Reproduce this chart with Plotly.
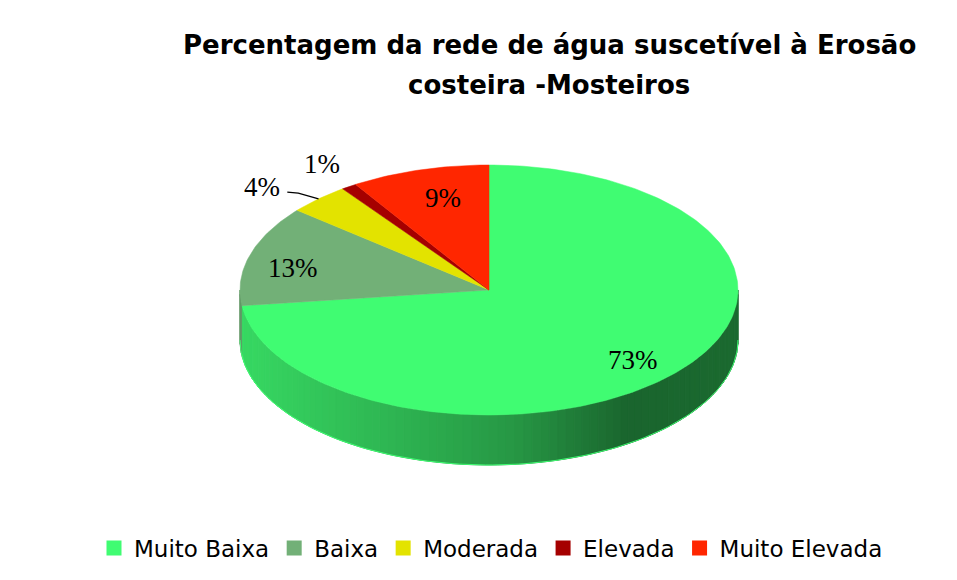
import numpy as np
import plotly.graph_objects as go

categories = ["Muito Baixa", "Baixa", "Moderada", "Elevada", "Muito Elevada"]
values = [73, 13, 4, 1, 9]
colors = ["#40FC72", "#72B077", "#E3E300", "#A50000", "#FF2600"]
# label placement factors (horizontal, vertical) relative to the ellipse radii
label_fx = [0.77, 0.82, 1.33, 1.19, 0.66]
label_fy = [0.85, 0.63, 1.13, 1.22, 0.77]

title_line1 = "Percentagem da rede de água suscetível à Erosão"
title_line2 = "costeira -Mosteiros"

W, H = 957, 580
OFF = 8  # page body margin
CX, CY, RX, RY, DEPTH = 489, 290, 249, 125, 50

total = float(sum(values))
fracs = [v / total for v in values]
starts = []
acc = 0.0
for f in fracs:
    starts.append(90 - acc * 360)
    acc += f
ends = [s - f * 360 for s, f in zip(starts, fracs)]


def pt(a, dy=0.0, fx=1.0, fy=1.0):
    t = np.radians(a)
    return CX + RX * fx * np.cos(t), CY - RY * fy * np.sin(t) + dy


def hex2rgb(h):
    h = h.lstrip("#")
    return np.array([int(h[i:i + 2], 16) for i in (0, 2, 4)], float)


def rgb2hex(c):
    c = np.clip(np.round(c), 0, 255).astype(int)
    return "#%02x%02x%02x" % tuple(c)


ramp_t = [0.0, 0.3, 0.55, 0.78, 1.0]
ramp_k = [0.86, 0.72, 0.6, 0.4, 0.42]

fig = go.Figure()

step = 2.0
a = 180.0
while a < 360.0 - 1e-9:
    a2 = min(a + step, 360.0)
    am = (a + a2) / 2
    idx = 0
    for i, (s, e) in enumerate(zip(starts, ends)):
        rel = (s - am) % 360
        if rel <= (s - e) + 1e-9:
            idx = i
            break
    xm, _ = pt(am)
    t = (xm - (CX - RX)) / (2 * RX)
    k = np.interp(t, ramp_t, ramp_k)
    col = rgb2hex(hex2rgb(colors[idx]) * k)
    xs, ys = [], []
    for ang in np.linspace(a, a2, 4):
        x, y = pt(ang)
        xs.append(x); ys.append(y)
    for ang in np.linspace(a2, a, 4):
        x, y = pt(ang, DEPTH)
        xs.append(x); ys.append(y)
    xs.append(xs[0]); ys.append(ys[0])
    fig.add_trace(go.Scatter(x=xs, y=ys, fill="toself", fillcolor=col, mode="lines",
                             line=dict(color=col, width=1), hoverinfo="skip", showlegend=False))
    a = a2

bx, by = [], []
for ang in np.linspace(180, 360, 120):
    x, y = pt(ang, DEPTH)
    bx.append(x); by.append(y)
fig.add_trace(go.Scatter(x=bx, y=by, mode="lines", line=dict(color="#40FC72", width=1),
                         hoverinfo="skip", showlegend=False))

for i, (s, e) in enumerate(zip(starts, ends)):
    n = max(4, int(abs(s - e) / 1.0))
    xs, ys = [CX], [CY]
    for ang in np.linspace(s, e, n):
        x, y = pt(ang)
        xs.append(x); ys.append(y)
    xs.append(CX); ys.append(CY)
    fig.add_trace(go.Scatter(x=xs, y=ys, fill="toself", fillcolor=colors[i], mode="lines",
                             line=dict(color=colors[i], width=0.5), hoverinfo="skip",
                             showlegend=False))

for i, c in enumerate(categories):
    fig.add_trace(go.Scatter(x=[None], y=[None], mode="markers", name=c,
                             marker=dict(symbol="square", size=15, color=colors[i])))

annotations = []
for i, v in enumerate(values):
    mid = (starts[i] + ends[i]) / 2
    lx, ly = pt(mid, fx=label_fx[i], fy=label_fy[i])
    annotations.append(dict(x=lx, y=ly, xref="x", yref="y", text=f"{v}%", showarrow=False,
                            font=dict(family="Liberation Serif", size=27, color="#000000")))

mi = 2
mid = (starts[mi] + ends[mi]) / 2
ex, ey = pt(mid)
lx, ly = pt(mid, fx=label_fx[mi], fy=label_fy[mi])
fig.add_trace(go.Scatter(x=[lx + 25, lx + 36, ex], y=[ly + 5, ly + 6, ey], mode="lines",
                         line=dict(color="#000000", width=1.3), hoverinfo="skip",
                         showlegend=False))

annotations.append(dict(x=549, y=45, xref="x", yref="y", text=f"<b>{title_line1}</b>",
                        showarrow=False, font=dict(family="DejaVu Sans", size=26, color="#000")))
annotations.append(dict(x=549, y=85, xref="x", yref="y", text=f"<b>{title_line2}</b>",
                        showarrow=False, font=dict(family="DejaVu Sans", size=26, color="#000")))

fig.update_layout(
    width=W, height=H, margin=dict(l=0, r=0, t=0, b=0),
    paper_bgcolor="white", plot_bgcolor="white",
    xaxis=dict(range=[OFF, W + OFF], visible=False, fixedrange=True),
    yaxis=dict(range=[H + OFF, OFF], visible=False, fixedrange=True),
    annotations=annotations,
    legend=dict(orientation="h", x=(491 - OFF) / W, xanchor="center",
                y=1 - (548 - OFF) / H, yanchor="middle",
                font=dict(family="DejaVu Sans", size=23, color="#000"),
                itemwidth=30, tracegroupgap=0, bgcolor="rgba(0,0,0,0)"),
    showlegend=True,
)

fig.write_html("out.html")
